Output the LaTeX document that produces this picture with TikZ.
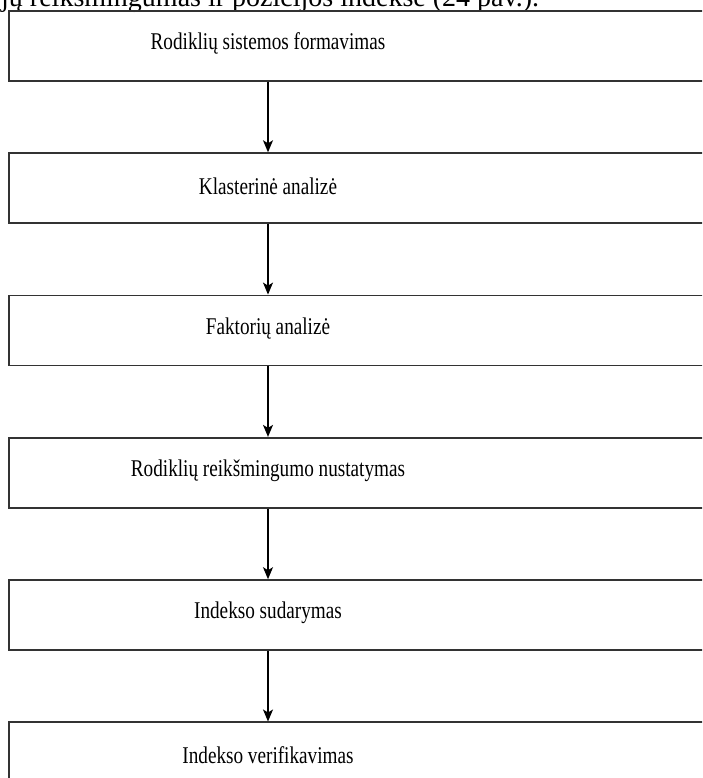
\documentclass[tikz,border=0pt]{standalone}
\usepackage{fontspec}
\setmainfont{Liberation Serif}
\newfontfamily\boxfont[FakeStretch=0.8]{Liberation Serif}
\usetikzlibrary{positioning, arrows.meta, calc}

\begin{document}
\begin{tikzpicture}[
  x=1pt, y=1pt,
  node distance=70.6pt,
  stepbox/.style={draw=black!80, line width=1.7pt, rectangle, minimum width=712pt, minimum height=70pt, inner sep=0pt},
  steptext/.style={font=\boxfont\fontsize{24}{28}\selectfont, inner sep=0pt},
  arr/.style={-{Stealth[length=12pt, width=10pt, inset=3pt]}, line width=1.3pt, black},
]
\useasboundingbox (0,0) rectangle (702,778);
\clip (0,0) rectangle (702,778);

% Lead-in sentence, cut off at the top edge
\node[anchor=base west, inner sep=0pt, font=\fontsize{28}{32}\selectfont] (lead) at (1,771) {jų reikšmingumas ir pozicijos indekse (24 pav.).};

% Text column
\coordinate (axis) at (268,0);

% === Boxes ===
\node[stepbox, anchor=north west] (box1) at (8,768) {};
\node[stepbox, below=of box1] (box2) {};
\node[stepbox, below=of box2] (box3) {};
\node[stepbox, below=of box3] (box4) {};
\node[stepbox, below=of box4] (box5) {};
\node[stepbox, below=of box5] (box6) {};

% === Labels ===
\node[steptext] (txt1) at ($(axis |- box1)+(0,2)$) {Rodiklių sistemos formavimas};
\node[steptext] (txt2) at ($(axis |- box2)+(0,2)$) {Klasterinė analizė};
\node[steptext] (txt3) at ($(axis |- box3)+(0,2)$) {Faktorių analizė};
\node[steptext] (txt4) at ($(axis |- box4)+(0,2)$) {Rodiklių reikšmingumo nustatymas};
\node[steptext] (txt5) at ($(axis |- box5)+(0,2)$) {Indekso sudarymas};
\node[steptext] (txt6) at ($(axis |- box6)+(0,2)$) {Indekso verifikavimas};

% === Arrows ===
\draw[arr] (txt1 |- box1.south) -- (txt2 |- box2.north);
\draw[arr] (txt2 |- box2.south) -- (txt3 |- box3.north);
\draw[arr] (txt3 |- box3.south) -- (txt4 |- box4.north);
\draw[arr] (txt4 |- box4.south) -- (txt5 |- box5.north);
\draw[arr] (txt5 |- box5.south) -- (txt6 |- box6.north);

\end{tikzpicture}
\end{document}
